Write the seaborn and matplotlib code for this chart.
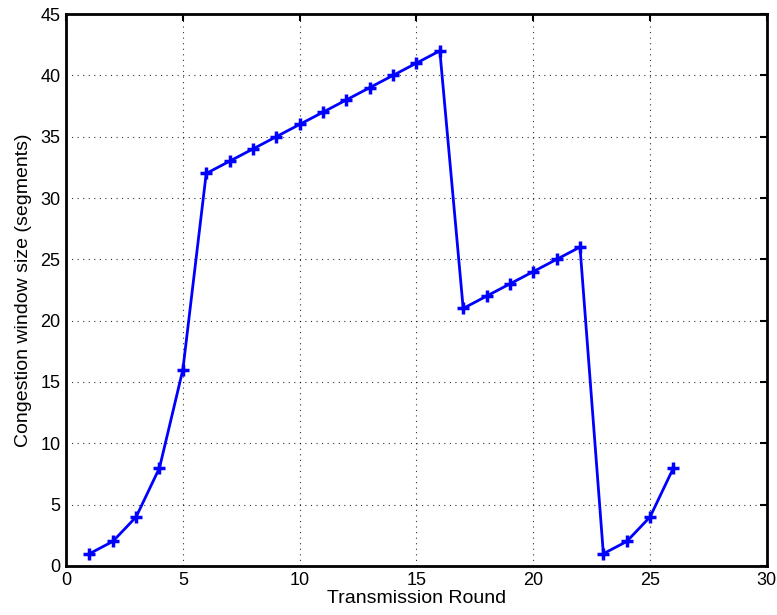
import matplotlib
matplotlib.use("Agg")
import matplotlib.pyplot as plt
import seaborn as sns
import pandas as pd

rounds = list(range(1, 27))
cwnd = [1, 2, 4, 8, 16, 32, 33, 34, 35, 36, 37, 38, 39, 40, 41, 42,
        21, 22, 23, 24, 25, 26, 1, 2, 4, 8]
x_ticks = [0, 5, 10, 15, 20, 25, 30]
y_ticks = [0, 5, 10, 15, 20, 25, 30, 35, 40, 45]

sns.set_style("white")
plt.rcParams['font.family'] = ['Liberation Sans', 'DejaVu Sans']
plt.rcParams['text.color'] = 'black'
plt.rcParams['axes.labelcolor'] = 'black'

df = pd.DataFrame({"round": rounds, "cwnd": cwnd})

fig = plt.figure(figsize=(7.77, 6.15), dpi=100)
ax = fig.add_axes([0.085, 0.0797, 0.902, 0.8975])
sns.lineplot(data=df, x="round", y="cwnd", ax=ax, color="#0000ff",
             linewidth=2.0, marker="+", markersize=8, markeredgewidth=2.5,
             markeredgecolor="#0000ff")

ax.set_xlim(0, 30)
ax.set_ylim(0, 45)
ax.set_xticks(x_ticks)
ax.set_yticks(y_ticks)
ax.grid(True, color="black", linestyle=(0, (1, 4)), linewidth=0.8, alpha=0.8)
ax.tick_params(direction="in", length=5, width=1.5, top=True, right=True,
               labelsize=13, colors="black", labelcolor="black", pad=4)
for s in ax.spines.values():
    s.set_visible(True)
    s.set_linewidth(2.0)
    s.set_color("black")
ax.set_xlabel("Transmission Round", fontsize=14, labelpad=1, color="black")
ax.set_ylabel("Congestion window size (segments)", fontsize=14, labelpad=6,
              color="black")

fig.savefig("out.png", dpi=100)
